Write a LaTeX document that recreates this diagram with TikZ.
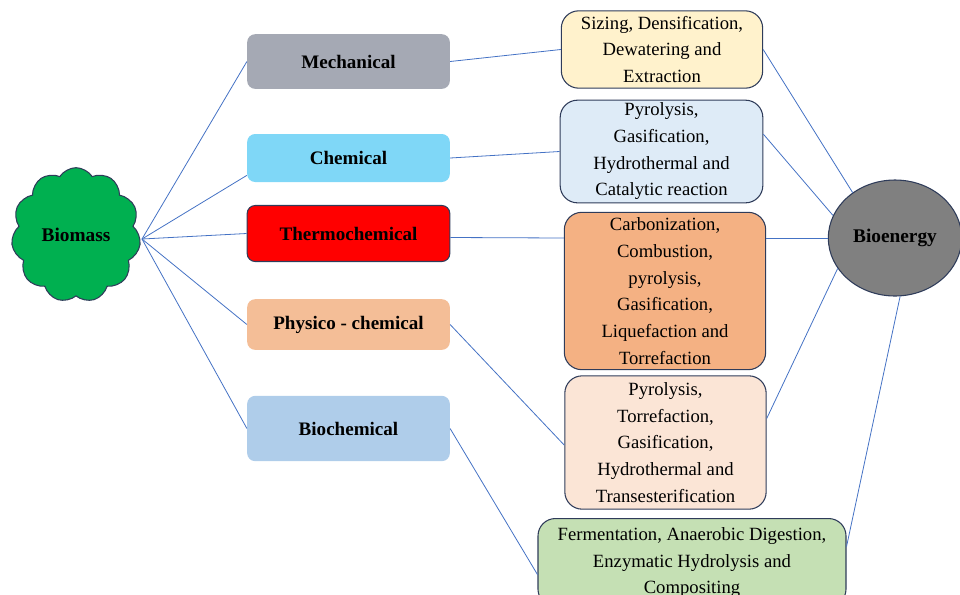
\documentclass[tikz,border=0pt]{standalone}
\usepackage{fontspec}
\setmainfont{Liberation Serif}
\usetikzlibrary{shapes.symbols,shapes.geometric}
\definecolor{edgeblue}{HTML}{4472C4}
\definecolor{navy}{RGB}{47,60,90}
\definecolor{cmech}{RGB}{165,169,180}
\definecolor{cchem}{HTML}{7FD7F7}
\definecolor{cphys}{HTML}{F4BE97}
\definecolor{cbioc}{HTML}{AFCDEA}
\definecolor{cbone}{HTML}{FFF2CC}
\definecolor{cbtwo}{HTML}{DEEBF7}
\definecolor{cbthree}{HTML}{F4B183}
\definecolor{cbfour}{HTML}{FBE5D6}
\definecolor{cbfive}{HTML}{C5E0B4}
\definecolor{cgreen}{HTML}{00B050}
\tikzset{
  leftbox/.style={rectangle, rounded corners=6pt, minimum width=152pt, inner sep=2pt,
    font=\fontsize{14.3}{20}\selectfont\bfseries},
  rightbox/.style={rectangle, rounded corners=13pt, draw=navy, line width=0.8pt, inner sep=2pt,
    align=center, font=\fontsize{14}{20}\selectfont},
  conn/.style={draw=edgeblue, line width=0.6pt}
}
\begin{document}
\begin{tikzpicture}[x=0.75pt,y=-0.75pt]
\useasboundingbox (0,0) rectangle (960,594);
\clip (0,0) rectangle (960,594);
% Left: biomass cloud
\node[cloud, cloud puffs=11, cloud puff arc=115, aspect=0.97, draw=navy, line width=0.8pt, fill=cgreen,
  minimum width=97pt, minimum height=101pt, font=\fontsize{14.5}{20}\selectfont\bfseries] (bio) at (76,235) {Biomass};
% Middle column
\node[leftbox, fill=cmech, minimum height=41pt] (mech) at (348.5,61.5) {Mechanical};
\node[leftbox, fill=cchem, minimum height=36pt] (chem) at (348.5,158) {Chemical};
\node[leftbox, fill=red, draw=navy, line width=0.8pt, minimum height=42pt] (thermo) at (348.5,233.5) {Thermochemical};
\node[leftbox, fill=cphys, minimum height=38pt] (phys) at (348.5,324.5) {Physico - chemical};
\node[leftbox, fill=cbioc, minimum height=49pt] (bioc) at (348.5,428.5) {Biochemical};
% Right column
\node[rightbox, fill=cbone, minimum width=151pt, minimum height=58pt] (b1) at (662,49.5)
  {Sizing, Densification,\\Dewatering and\\Extraction};
\node[rightbox, fill=cbtwo, minimum width=152pt, minimum height=77pt] (b2) at (661.5,151.5)
  {Pyrolysis,\\Gasification,\\Hydrothermal and\\Catalytic reaction};
\node[rightbox, fill=cbthree, minimum width=151pt, minimum height=118pt] (b3) at (665,291)
  {Carbonization,\\Combustion,\\pyrolysis,\\Gasification,\\Liquefaction and\\Torrefaction};
\node[rightbox, fill=cbfour, minimum width=151pt, minimum height=100pt] (b4) at (665.5,442.5)
  {Pyrolysis,\\Torrefaction,\\Gasification,\\Hydrothermal and\\Transesterification};
\node[rightbox, fill=cbfive, minimum width=231pt, minimum height=66pt, anchor=north] (b5) at (692,518)
  {Fermentation, Anaerobic Digestion,\\Enzymatic Hydrolysis and\\Compositing};
% Bioenergy
\node[ellipse, draw=navy, line width=0.8pt, fill=gray, minimum width=100pt, minimum height=87pt,
  font=\fontsize{14.5}{20}\selectfont\bfseries] (bioe) at (895,238) {Bioenergy};
% Connectors biomass -> methods
\coordinate (hub) at (142,239);
\draw[conn] (hub) -- (mech.west);
\draw[conn] (hub) -- ([yshift=-13pt]chem.west);
\draw[conn] (hub) -- (thermo.west);
\draw[conn] (hub) -- (phys.west);
\draw[conn] (hub) -- (bioc.west);
% methods -> processes
\draw[conn] (mech.east) -- (b1.west);
\draw[conn] (chem.east) -- (b2.west);
\draw[conn] ([yshift=-3pt]thermo.east) -- (b3.west |- bioe.west);
\draw[conn] (phys.east) -- ([yshift=-2pt]b4.west);
\draw[conn] (bioc.east) -- ([yshift=-9pt]b5.west);
% processes -> bioenergy
\draw[conn] ([yshift=0pt]b1.east) -- (bioe.133);
\draw[conn] ([yshift=13pt]b2.east) -- (bioe.160);
\draw[conn] (b3.east |- bioe.west) -- (bioe.west);
\draw[conn] ([yshift=18pt]b4.east) -- (bioe.208);
\draw[conn] ([yshift=12pt]b5.east) -- (bioe.275);
\end{tikzpicture}
\end{document}
